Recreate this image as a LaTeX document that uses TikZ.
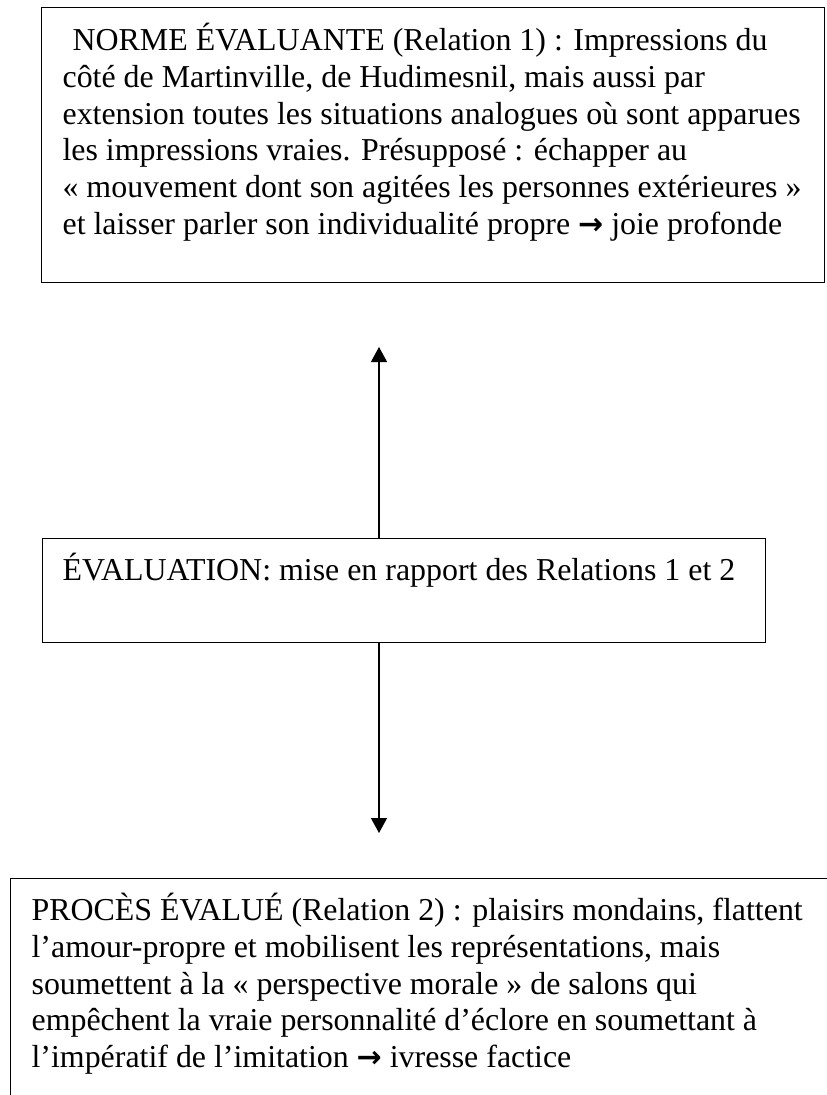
\documentclass[tikz,border=0pt]{standalone}
\usepackage{fontspec}
\setmainfont{Liberation Serif}
\newfontfamily\arrowfont{DejaVu Sans}
\usetikzlibrary{arrows.meta}
% #1 width, #2 height, #3 first baseline from top, #4 left padding, #5 text
\newcommand{\boxbody}[5]{%
  \parbox[t][#2][t]{#1}{\fontsize{31.9bp}{36.7bp}\selectfont\raggedright
    \leftskip=#4\relax\hbadness=10000\rule{0pt}{#3}#5}}
\newcommand{\rarr}{{\arrowfont\bfseries\fontsize{30bp}{30bp}\selectfont →}}
\begin{document}
\begin{tikzpicture}[x=1bp, y=-1bp,
  box/.style={draw, line width=1.2bp, inner sep=0pt, anchor=north west},
  link/.style={line width=1.3bp, -{Triangle[width=16bp,length=15bp]}}]
\useasboundingbox (0,0) rectangle (827,1095);
\clip (0,0) rectangle (827,1095);
\fill[white] (0,0) rectangle (827,1095);

\node[box] (norme) at (41,7) {\boxbody{783bp}{275bp}{43bp}{21bp}{%
\hspace*{10bp}NORME ÉVALUANTE (Relation 1) : Impressions du\\
côté de Martinville, de Hudimesnil, mais aussi par\\
extension toutes les situations analogues où sont apparues\\
les impressions vraies. Présupposé : échapper au\\
« mouvement dont son agitées les personnes extérieures »\\
et laisser parler son individualité propre \rarr{} joie profonde}};

\node[box] (eval) at (42,538) {\boxbody{723bp}{104bp}{42bp}{20bp}{%
ÉVALUATION: mise en rapport des Relations 1 et 2}};

\node[box] (proces) at (10,878) {\boxbody{817bp}{260bp}{42bp}{21bp}{%
PROCÈS ÉVALUÉ (Relation 2) : plaisirs mondains, flattent\\
l’amour-propre et mobilisent les représentations, mais\\
soumettent à la « perspective morale » de salons qui\\
empêchent la vraie personnalité d’éclore en soumettant à\\
l’impératif de l’imitation \rarr{} ivresse factice}};

\coordinate (upTip) at (379,347);
\coordinate (downTip) at (379,833);
\draw[link] (upTip |- eval.north) -- (upTip);
\draw[link] (downTip |- eval.south) -- (downTip);
\end{tikzpicture}
\end{document}
